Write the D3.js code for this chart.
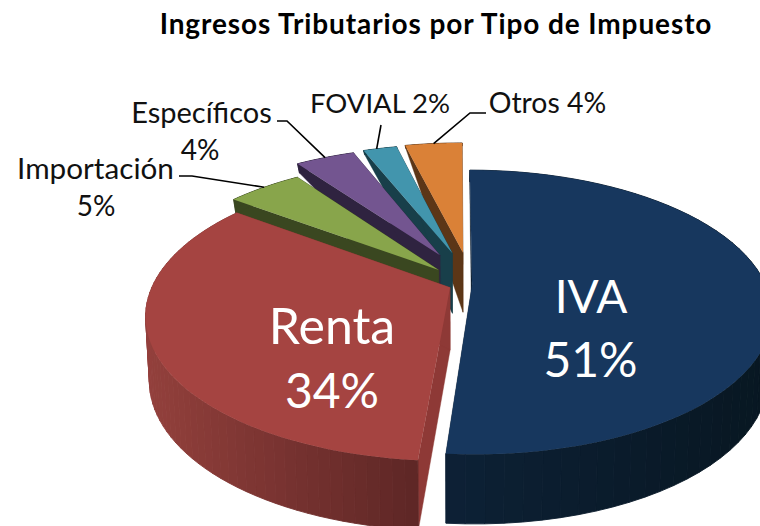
<!DOCTYPE html>
<html><head><meta charset="utf-8">
<script src="https://cdn.jsdelivr.net/npm/d3@7"></script>
<style>html,body{margin:0;padding:0;background:#fff;overflow:hidden}svg{display:block}text{font-family:Lato,"Open Sans",sans-serif}</style>
</head><body><svg id="c" width="760" height="526"></svg>
<script>
const title = "Ingresos Tributarios por Tipo de Impuesto";
const categories = ["IVA","Renta","Importación","Específicos","FOVIAL","Otros"];
const values = [51.3,33.9,5.0,3.9,2.2,3.7];
const topColors = ["#17375e","#a54441","#88a54b","#735590","#4295ad","#da8137"];
const cutColors = ["#0c1f33","#8e3936","#3a4720","#2f2340","#183f4a","#5c3617"];
const wallLight = ["#0d2136","#93403c","#3a4720","#2f2340","#183f4a","#5c3617"];
const wallDark  = ["#081722","#5f2726","#3a4720","#2f2340","#183f4a","#5c3617"];
// explosion of each slice in the pie's own plane (fractions of the radius)
const explodeX = [.048,-.027,-.067,-.064,-.02,.018];
const explodeY = [-.059,-.04,-.17,-.285,-.30,-.305];
const radiusGrow = [1,1.012,1,1.03,1.04,1.05];

const svg = d3.select("#c");
const R = 297, Rb = 140, P = .195, CX = 458, CY = 293, SHRINK = .988;
const proj = (X,Y)=>{const s=1/(1-P*Y);return [CX+X*R*s, CY+Y*Rb*s];};
const thick = d3.scaleLinear().domain([-1.3,-1.05,-.8,-.3,0,1]).range([3,12,14,60,63,70]).clamp(true);
const pie = d3.pie().sort(null).startAngle(0).endAngle(2*Math.PI)(values);
const line = d3.line();
const fmt = d3.format(".0f");

const slices = pie.map((d,i)=>{
  const rim = d3.range(0,61).map(k=>{
    const a=d.startAngle+(d.endAngle-d.startAngle)*k/60;
    return [explodeX[i]+Math.sin(a)*radiusGrow[i], explodeY[i]-Math.cos(a)*radiusGrow[i]];
  });
  return {i,d,rim,tip:[explodeX[i],explodeY[i]]};
});
const top3 = ([X,Y])=>proj(X,Y);
const bot3 = ([X,Y])=>{const p=proj(X,Y);return [CX+(p[0]-CX)*SHRINK,p[1]+thick(Y)];};

const order = [5,4,3,2,1,0];
order.forEach(i=>{
  const s=slices[i];
  const tr=s.rim.map(top3), br=s.rim.map(bot3);
  const shade=d3.scaleLinear().domain(d3.extent(tr,p=>p[0])).range([wallLight[i],wallDark[i]]);
  const grp=svg.append("g");
  [0,60].forEach(k=>{
    grp.append("path").attr("fill",cutColors[i]).attr("stroke",cutColors[i]).attr("stroke-width",.4)
      .attr("d",line([top3(s.tip),tr[k],br[k],bot3(s.tip)])+"Z");
  });
  grp.selectAll("path.wall").data(d3.range(60)).join("path").attr("class","wall")
    .attr("fill",k=>shade(tr[k][0])).attr("stroke",k=>shade(tr[k][0])).attr("stroke-width",.9)
    .attr("d",k=>line([tr[k],tr[k+1],br[k+1],br[k]])+"Z");
  grp.append("path").attr("fill",topColors[i])
    .attr("d",line([top3(s.tip)].concat(tr))+"Z");
});

// leader lines: rim of the slice -> elbow -> label
const leaderRim = (i,f)=>top3(slices[i].rim[Math.round(60*f)]);
const leaders = [
  {i:2,f:.5,pts:[[192,176],[179,176]]},
  {i:3,f:.5,pts:[[287,121],[277,121]]},
  {i:4,f:.4,pts:[[381,125]]},
  {i:5,f:.5,pts:[[470,113],[486,113]]}
];
leaders.forEach(l=>{
  svg.append("path").attr("fill","none").attr("stroke","#000").attr("stroke-width",1.6)
    .attr("d",line([leaderRim(l.i,l.f)].concat(l.pts)));
});

const pct = i=>fmt(values[i])+"%";
const label=(t,x,y,size,fill,weight)=>svg.append("text").attr("x",x).attr("y",y)
  .attr("font-size",size).attr("fill",fill).attr("text-anchor","middle")
  .attr("font-weight",weight||400).text(t);
label(title,436,34,28,"#000",700).attr("letter-spacing",.9);
label(categories[3],201.5,123,29,"#111");
label(pct(3),200,160,28,"#111");
label(categories[2],95.5,179,29.7,"#111");
label(pct(2),96,216,28,"#111");
label(categories[4]+" "+pct(4),380,113,27.5,"#111");
label(categories[5]+" "+pct(5),547.5,113,28.4,"#111");
label(categories[0],591,313,46,"#fff");
label(pct(0),590.5,377,48,"#fff");
label(categories[1],332,344,50,"#fff");
label(pct(1),332,408,48,"#fff");
</script></body></html>
